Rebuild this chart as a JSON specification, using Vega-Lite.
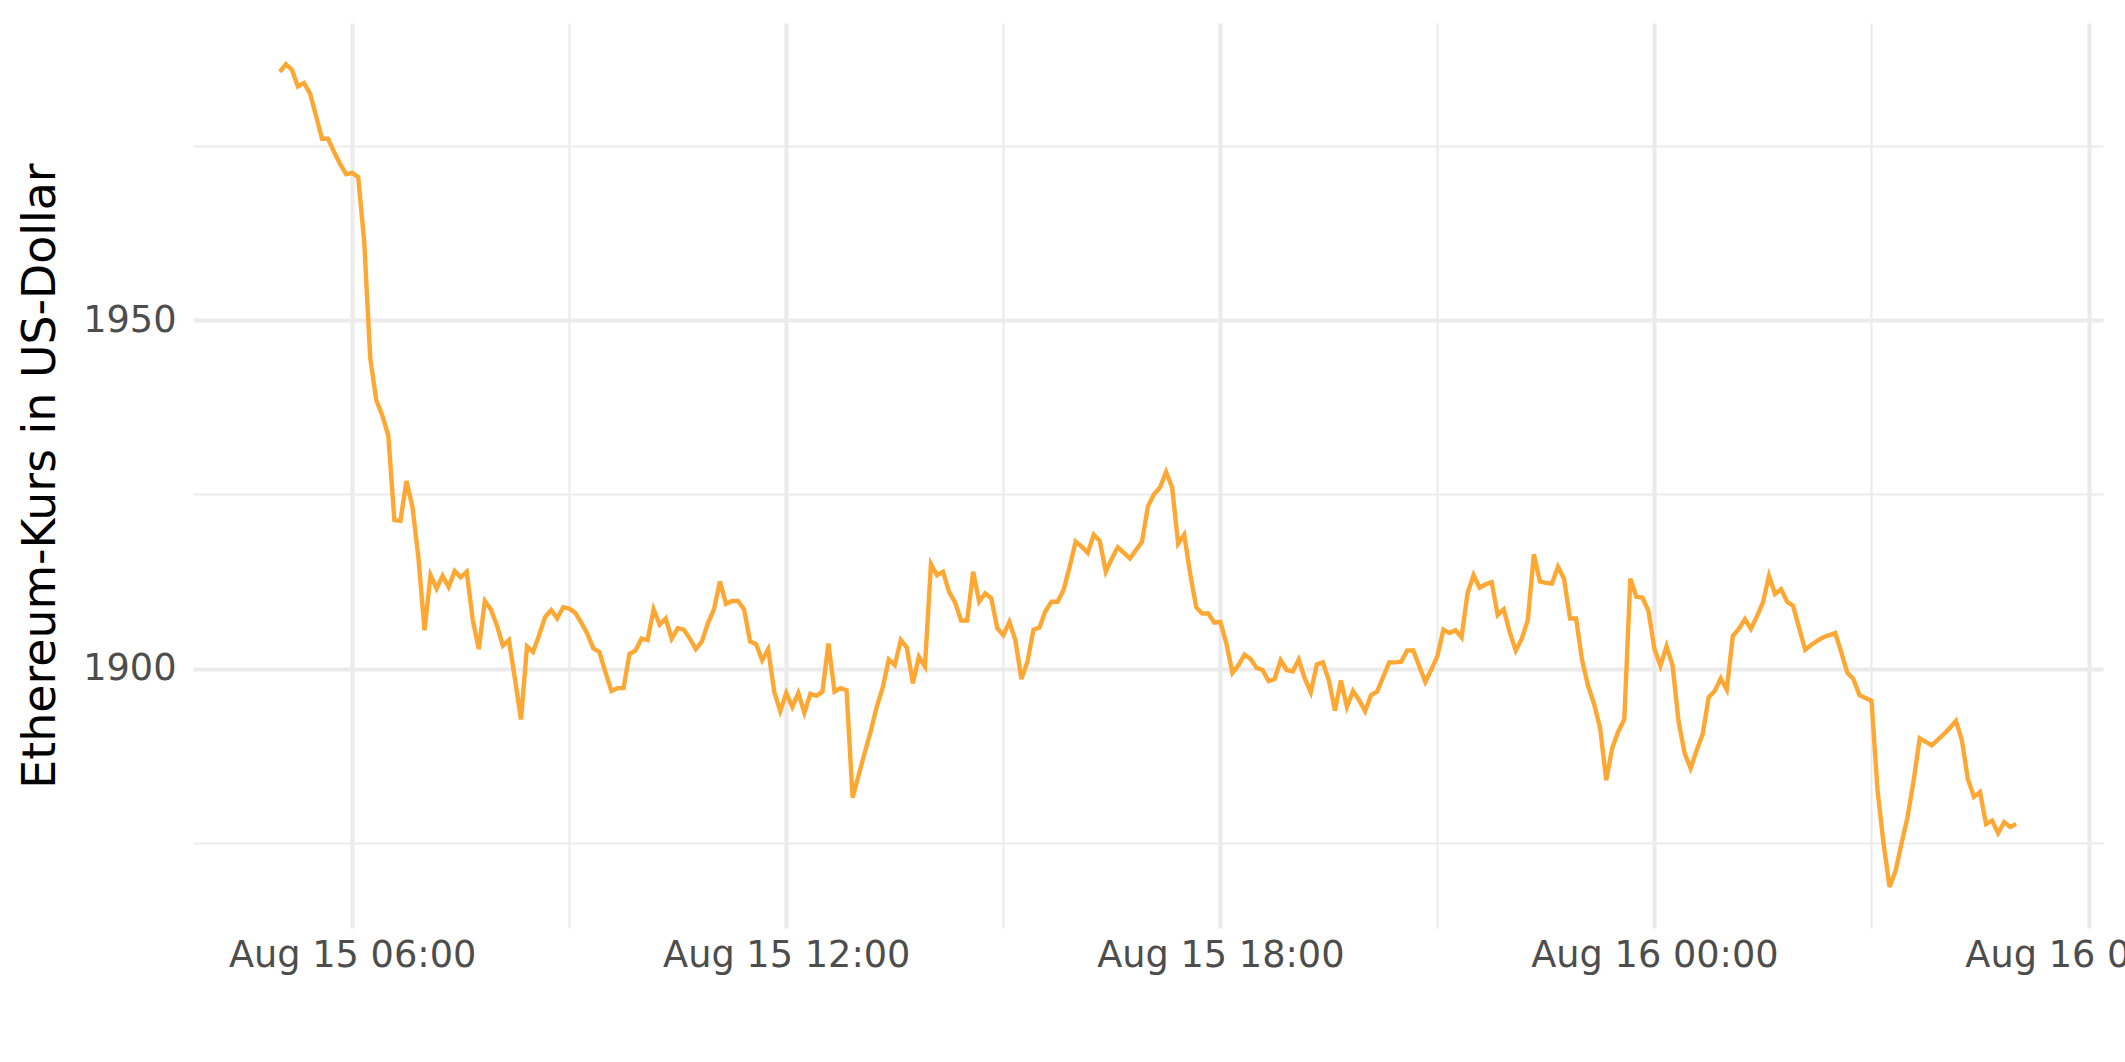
{
  "$schema": "https://vega.github.io/schema/vega-lite/v6.json",
  "autosize": {"type": "none"},
  "padding": {"left": 193, "top": 23, "right": 22, "bottom": 134},
  "width": 1910,
  "height": 905,
  "background": "#FFFFFF",
  "config": {"view": {"stroke": null}, "font": "DejaVu Sans"},
  "data": {"values": [
    {"t":"2022-08-15T05:00","v":1985.6},{"t":"2022-08-15T05:05","v":1986.7},{"t":"2022-08-15T05:10","v":1985.9},{"t":"2022-08-15T05:15","v":1983.5},{"t":"2022-08-15T05:20","v":1984.0},{"t":"2022-08-15T05:25","v":1982.5},{"t":"2022-08-15T05:30","v":1979.3},{"t":"2022-08-15T05:35","v":1976.0},{"t":"2022-08-15T05:40","v":1976.0},{"t":"2022-08-15T05:45","v":1974.1},{"t":"2022-08-15T05:50","v":1972.4},{"t":"2022-08-15T05:55","v":1970.9},
    {"t":"2022-08-15T06:00","v":1971.1},{"t":"2022-08-15T06:05","v":1970.5},{"t":"2022-08-15T06:10","v":1961.2},{"t":"2022-08-15T06:15","v":1944.5},{"t":"2022-08-15T06:20","v":1938.5},{"t":"2022-08-15T06:25","v":1936.3},{"t":"2022-08-15T06:30","v":1933.4},{"t":"2022-08-15T06:35","v":1921.3},{"t":"2022-08-15T06:40","v":1921.2},{"t":"2022-08-15T06:45","v":1926.9},{"t":"2022-08-15T06:50","v":1923.2},{"t":"2022-08-15T06:55","v":1915.8},
    {"t":"2022-08-15T07:00","v":1905.5},{"t":"2022-08-15T07:05","v":1913.4},{"t":"2022-08-15T07:10","v":1911.5},{"t":"2022-08-15T07:15","v":1913.3},{"t":"2022-08-15T07:20","v":1911.7},{"t":"2022-08-15T07:25","v":1914.0},{"t":"2022-08-15T07:30","v":1913.1},{"t":"2022-08-15T07:35","v":1913.9},{"t":"2022-08-15T07:40","v":1907.0},{"t":"2022-08-15T07:45","v":1902.8},{"t":"2022-08-15T07:50","v":1909.7},{"t":"2022-08-15T07:55","v":1908.5},
    {"t":"2022-08-15T08:00","v":1906.2},{"t":"2022-08-15T08:05","v":1903.3},{"t":"2022-08-15T08:10","v":1904.1},{"t":"2022-08-15T08:15","v":1898.5},{"t":"2022-08-15T08:20","v":1892.7},{"t":"2022-08-15T08:25","v":1903.2},{"t":"2022-08-15T08:30","v":1902.4},{"t":"2022-08-15T08:35","v":1904.8},{"t":"2022-08-15T08:40","v":1907.4},{"t":"2022-08-15T08:45","v":1908.4},{"t":"2022-08-15T08:50","v":1907.2},{"t":"2022-08-15T08:55","v":1908.8},
    {"t":"2022-08-15T09:00","v":1908.6},{"t":"2022-08-15T09:05","v":1908.0},{"t":"2022-08-15T09:10","v":1906.6},{"t":"2022-08-15T09:15","v":1905.0},{"t":"2022-08-15T09:20","v":1902.9},{"t":"2022-08-15T09:25","v":1902.4},{"t":"2022-08-15T09:30","v":1899.5},{"t":"2022-08-15T09:35","v":1896.8},{"t":"2022-08-15T09:40","v":1897.2},{"t":"2022-08-15T09:45","v":1897.2},{"t":"2022-08-15T09:50","v":1902.1},{"t":"2022-08-15T09:55","v":1902.6},
    {"t":"2022-08-15T10:00","v":1904.3},{"t":"2022-08-15T10:05","v":1904.1},{"t":"2022-08-15T10:10","v":1908.5},{"t":"2022-08-15T10:15","v":1906.3},{"t":"2022-08-15T10:20","v":1907.2},{"t":"2022-08-15T10:25","v":1904.3},{"t":"2022-08-15T10:30","v":1905.8},{"t":"2022-08-15T10:35","v":1905.6},{"t":"2022-08-15T10:40","v":1904.3},{"t":"2022-08-15T10:45","v":1902.8},{"t":"2022-08-15T10:50","v":1903.9},{"t":"2022-08-15T10:55","v":1906.5},
    {"t":"2022-08-15T11:00","v":1908.5},{"t":"2022-08-15T11:05","v":1912.5},{"t":"2022-08-15T11:10","v":1909.3},{"t":"2022-08-15T11:15","v":1909.7},{"t":"2022-08-15T11:20","v":1909.7},{"t":"2022-08-15T11:25","v":1908.5},{"t":"2022-08-15T11:30","v":1903.9},{"t":"2022-08-15T11:35","v":1903.5},{"t":"2022-08-15T11:40","v":1901.2},{"t":"2022-08-15T11:45","v":1902.8},{"t":"2022-08-15T11:50","v":1896.7},{"t":"2022-08-15T11:55","v":1893.9},
    {"t":"2022-08-15T12:00","v":1896.5},{"t":"2022-08-15T12:05","v":1894.5},{"t":"2022-08-15T12:10","v":1896.5},{"t":"2022-08-15T12:15","v":1893.7},{"t":"2022-08-15T12:20","v":1896.4},{"t":"2022-08-15T12:25","v":1896.1},{"t":"2022-08-15T12:30","v":1896.7},{"t":"2022-08-15T12:35","v":1903.6},{"t":"2022-08-15T12:40","v":1896.7},{"t":"2022-08-15T12:45","v":1897.2},{"t":"2022-08-15T12:50","v":1896.9},{"t":"2022-08-15T12:55","v":1881.5},
    {"t":"2022-08-15T13:00","v":1884.7},{"t":"2022-08-15T13:05","v":1887.9},{"t":"2022-08-15T13:10","v":1891.0},{"t":"2022-08-15T13:15","v":1894.5},{"t":"2022-08-15T13:20","v":1897.3},{"t":"2022-08-15T13:25","v":1901.3},{"t":"2022-08-15T13:30","v":1900.5},{"t":"2022-08-15T13:35","v":1904.1},{"t":"2022-08-15T13:40","v":1903.0},{"t":"2022-08-15T13:45","v":1897.9},{"t":"2022-08-15T13:50","v":1901.7},{"t":"2022-08-15T13:55","v":1900.3},
    {"t":"2022-08-15T14:00","v":1915.0},{"t":"2022-08-15T14:05","v":1913.4},{"t":"2022-08-15T14:10","v":1913.9},{"t":"2022-08-15T14:15","v":1911.0},{"t":"2022-08-15T14:20","v":1909.5},{"t":"2022-08-15T14:25","v":1906.9},{"t":"2022-08-15T14:30","v":1906.9},{"t":"2022-08-15T14:35","v":1913.9},{"t":"2022-08-15T14:40","v":1909.6},{"t":"2022-08-15T14:45","v":1910.8},{"t":"2022-08-15T14:50","v":1910.1},{"t":"2022-08-15T14:55","v":1905.8},
    {"t":"2022-08-15T15:00","v":1904.8},{"t":"2022-08-15T15:05","v":1906.7},{"t":"2022-08-15T15:10","v":1904.1},{"t":"2022-08-15T15:15","v":1898.5},{"t":"2022-08-15T15:20","v":1901.0},{"t":"2022-08-15T15:25","v":1905.6},{"t":"2022-08-15T15:30","v":1905.9},{"t":"2022-08-15T15:35","v":1908.3},{"t":"2022-08-15T15:40","v":1909.6},{"t":"2022-08-15T15:45","v":1909.6},{"t":"2022-08-15T15:50","v":1911.3},{"t":"2022-08-15T15:55","v":1914.6},
    {"t":"2022-08-15T16:00","v":1918.2},{"t":"2022-08-15T16:05","v":1917.5},{"t":"2022-08-15T16:10","v":1916.6},{"t":"2022-08-15T16:15","v":1919.2},{"t":"2022-08-15T16:20","v":1918.3},{"t":"2022-08-15T16:25","v":1913.9},{"t":"2022-08-15T16:30","v":1915.8},{"t":"2022-08-15T16:35","v":1917.4},{"t":"2022-08-15T16:40","v":1916.6},{"t":"2022-08-15T16:45","v":1915.8},{"t":"2022-08-15T16:50","v":1917.0},{"t":"2022-08-15T16:55","v":1918.2},
    {"t":"2022-08-15T17:00","v":1923.3},{"t":"2022-08-15T17:05","v":1925.0},{"t":"2022-08-15T17:10","v":1926.0},{"t":"2022-08-15T17:15","v":1928.2},{"t":"2022-08-15T17:20","v":1926.0},{"t":"2022-08-15T17:25","v":1917.9},{"t":"2022-08-15T17:30","v":1919.2},{"t":"2022-08-15T17:35","v":1913.6},{"t":"2022-08-15T17:40","v":1908.8},{"t":"2022-08-15T17:45","v":1907.9},{"t":"2022-08-15T17:50","v":1907.9},{"t":"2022-08-15T17:55","v":1906.6},
    {"t":"2022-08-15T18:00","v":1906.7},{"t":"2022-08-15T18:05","v":1903.6},{"t":"2022-08-15T18:10","v":1899.4},{"t":"2022-08-15T18:15","v":1900.5},{"t":"2022-08-15T18:20","v":1902.0},{"t":"2022-08-15T18:25","v":1901.4},{"t":"2022-08-15T18:30","v":1900.1},{"t":"2022-08-15T18:35","v":1899.8},{"t":"2022-08-15T18:40","v":1898.2},{"t":"2022-08-15T18:45","v":1898.5},{"t":"2022-08-15T18:50","v":1901.2},{"t":"2022-08-15T18:55","v":1899.8},
    {"t":"2022-08-15T19:00","v":1899.6},{"t":"2022-08-15T19:05","v":1901.3},{"t":"2022-08-15T19:10","v":1898.6},{"t":"2022-08-15T19:15","v":1896.6},{"t":"2022-08-15T19:20","v":1900.6},{"t":"2022-08-15T19:25","v":1900.9},{"t":"2022-08-15T19:30","v":1898.3},{"t":"2022-08-15T19:35","v":1894.0},{"t":"2022-08-15T19:40","v":1898.3},{"t":"2022-08-15T19:45","v":1894.5},{"t":"2022-08-15T19:50","v":1896.8},{"t":"2022-08-15T19:55","v":1895.5},
    {"t":"2022-08-15T20:00","v":1893.9},{"t":"2022-08-15T20:05","v":1896.2},{"t":"2022-08-15T20:10","v":1896.7},{"t":"2022-08-15T20:15","v":1898.8},{"t":"2022-08-15T20:20","v":1900.9},{"t":"2022-08-15T20:25","v":1900.9},{"t":"2022-08-15T20:30","v":1901.0},{"t":"2022-08-15T20:35","v":1902.6},{"t":"2022-08-15T20:40","v":1902.6},{"t":"2022-08-15T20:45","v":1900.3},{"t":"2022-08-15T20:50","v":1898.1},{"t":"2022-08-15T20:55","v":1899.9},
    {"t":"2022-08-15T21:00","v":1901.8},{"t":"2022-08-15T21:05","v":1905.6},{"t":"2022-08-15T21:10","v":1905.1},{"t":"2022-08-15T21:15","v":1905.5},{"t":"2022-08-15T21:20","v":1904.5},{"t":"2022-08-15T21:25","v":1910.8},{"t":"2022-08-15T21:30","v":1913.4},{"t":"2022-08-15T21:35","v":1911.6},{"t":"2022-08-15T21:40","v":1912.1},{"t":"2022-08-15T21:45","v":1912.4},{"t":"2022-08-15T21:50","v":1907.7},{"t":"2022-08-15T21:55","v":1908.5},
    {"t":"2022-08-15T22:00","v":1905.2},{"t":"2022-08-15T22:05","v":1902.6},{"t":"2022-08-15T22:10","v":1904.3},{"t":"2022-08-15T22:15","v":1907.0},{"t":"2022-08-15T22:20","v":1916.4},{"t":"2022-08-15T22:25","v":1912.5},{"t":"2022-08-15T22:30","v":1912.3},{"t":"2022-08-15T22:35","v":1912.2},{"t":"2022-08-15T22:40","v":1914.6},{"t":"2022-08-15T22:45","v":1912.9},{"t":"2022-08-15T22:50","v":1907.2},{"t":"2022-08-15T22:55","v":1907.2},
    {"t":"2022-08-15T23:00","v":1901.2},{"t":"2022-08-15T23:05","v":1897.5},{"t":"2022-08-15T23:10","v":1894.9},{"t":"2022-08-15T23:15","v":1891.4},{"t":"2022-08-15T23:20","v":1884.0},{"t":"2022-08-15T23:25","v":1888.6},{"t":"2022-08-15T23:30","v":1891.0},{"t":"2022-08-15T23:35","v":1892.7},{"t":"2022-08-15T23:40","v":1912.9},{"t":"2022-08-15T23:45","v":1910.3},{"t":"2022-08-15T23:50","v":1910.2},{"t":"2022-08-15T23:55","v":1908.3},
    {"t":"2022-08-16T00:00","v":1902.8},{"t":"2022-08-16T00:05","v":1900.4},{"t":"2022-08-16T00:10","v":1903.2},{"t":"2022-08-16T00:15","v":1900.5},{"t":"2022-08-16T00:20","v":1892.4},{"t":"2022-08-16T00:25","v":1887.9},{"t":"2022-08-16T00:30","v":1885.7},{"t":"2022-08-16T00:35","v":1888.3},{"t":"2022-08-16T00:40","v":1890.6},{"t":"2022-08-16T00:45","v":1895.9},{"t":"2022-08-16T00:50","v":1896.8},{"t":"2022-08-16T00:55","v":1898.6},
    {"t":"2022-08-16T01:00","v":1897.0},{"t":"2022-08-16T01:05","v":1904.7},{"t":"2022-08-16T01:10","v":1905.7},{"t":"2022-08-16T01:15","v":1907.1},{"t":"2022-08-16T01:20","v":1905.7},{"t":"2022-08-16T01:25","v":1907.5},{"t":"2022-08-16T01:30","v":1909.5},{"t":"2022-08-16T01:35","v":1913.3},{"t":"2022-08-16T01:40","v":1910.7},{"t":"2022-08-16T01:45","v":1911.4},{"t":"2022-08-16T01:50","v":1909.6},{"t":"2022-08-16T01:55","v":1909.0},
    {"t":"2022-08-16T02:00","v":1905.8},{"t":"2022-08-16T02:05","v":1902.7},{"t":"2022-08-16T02:10","v":1903.4},{"t":"2022-08-16T02:15","v":1904.0},{"t":"2022-08-16T02:20","v":1904.5},{"t":"2022-08-16T02:25","v":1904.8},{"t":"2022-08-16T02:30","v":1905.1},{"t":"2022-08-16T02:35","v":1902.3},{"t":"2022-08-16T02:40","v":1899.4},{"t":"2022-08-16T02:45","v":1898.5},{"t":"2022-08-16T02:50","v":1896.2},{"t":"2022-08-16T02:55","v":1895.8},
    {"t":"2022-08-16T03:00","v":1895.4},{"t":"2022-08-16T03:05","v":1882.6},{"t":"2022-08-16T03:10","v":1874.9},{"t":"2022-08-16T03:15","v":1868.7},{"t":"2022-08-16T03:20","v":1871.0},{"t":"2022-08-16T03:25","v":1875.0},{"t":"2022-08-16T03:30","v":1878.8},{"t":"2022-08-16T03:35","v":1884.0},{"t":"2022-08-16T03:40","v":1890.0},{"t":"2022-08-16T03:45","v":1889.5},{"t":"2022-08-16T03:50","v":1889.0},{"t":"2022-08-16T03:55","v":1889.8},
    {"t":"2022-08-16T04:00","v":1890.6},{"t":"2022-08-16T04:05","v":1891.5},{"t":"2022-08-16T04:10","v":1892.5},{"t":"2022-08-16T04:15","v":1889.7},{"t":"2022-08-16T04:20","v":1884.1},{"t":"2022-08-16T04:25","v":1881.6},{"t":"2022-08-16T04:30","v":1882.3},{"t":"2022-08-16T04:35","v":1877.7},{"t":"2022-08-16T04:40","v":1878.2},{"t":"2022-08-16T04:45","v":1876.4},{"t":"2022-08-16T04:50","v":1878.0},{"t":"2022-08-16T04:55","v":1877.3},
    {"t":"2022-08-16T05:00","v":1877.7}
  ]},
  "mark": {"type": "line", "color": "#FFA733", "strokeWidth": 4.4},
  "encoding": {
    "x": {
      "field": "t", "type": "temporal",
      "scale": {"domain": [{"year": 2022, "month": 8, "date": 15, "hours": 3, "minutes": 48}, {"year": 2022, "month": 8, "date": 16, "hours": 6, "minutes": 12}], "nice": false},
      "axis": {
        "title": null,
        "values": [
          {"year": 2022, "month": 8, "date": 15, "hours": 6},
          {"year": 2022, "month": 8, "date": 15, "hours": 9},
          {"year": 2022, "month": 8, "date": 15, "hours": 12},
          {"year": 2022, "month": 8, "date": 15, "hours": 15},
          {"year": 2022, "month": 8, "date": 15, "hours": 18},
          {"year": 2022, "month": 8, "date": 15, "hours": 21},
          {"year": 2022, "month": 8, "date": 16, "hours": 0},
          {"year": 2022, "month": 8, "date": 16, "hours": 3},
          {"year": 2022, "month": 8, "date": 16, "hours": 6}
        ],
        "labelExpr": "hours(datum.value) % 6 == 0 ? timeFormat(datum.value, '%b %d %H:%M') : ''",
        "grid": true,
        "gridColor": "#EBEBEB",
        "gridWidth": {"condition": {"test": "hours(datum.value) % 6 == 0", "value": 4.2}, "value": 2.2},
        "ticks": false,
        "domain": false,
        "labelFont": "DejaVu Sans",
        "labelFontSize": 36.7,
        "labelColor": "#4D4D4D",
        "labelPadding": 9,
        "labelLimit": 0,
        "labelFlush": false,
        "labelOverlap": false,
        "labelBound": false
      }
    },
    "y": {
      "field": "v", "type": "quantitative",
      "scale": {"domain": [1862.8, 1992.6], "nice": false, "zero": false},
      "axis": {
        "title": "Ethereum-Kurs in US-Dollar",
        "titleFont": "DejaVu Sans",
        "titleFontSize": 45.8,
        "titleFontWeight": "normal",
        "titleColor": "#000000",
        "titlePadding": 18,
        "values": [1875, 1900, 1925, 1950, 1975],
        "format": "d",
        "labelExpr": "datum.value % 50 == 0 ? datum.label : ''",
        "grid": true,
        "gridColor": "#EBEBEB",
        "gridWidth": {"condition": {"test": "datum.value % 50 == 0", "value": 4.2}, "value": 2.2},
        "ticks": false,
        "domain": false,
        "labelFont": "DejaVu Sans",
        "labelFontSize": 36.7,
        "labelColor": "#4D4D4D",
        "labelPadding": 17,
        "labelLimit": 0,
        "labelOverlap": false
      }
    }
  }
}
